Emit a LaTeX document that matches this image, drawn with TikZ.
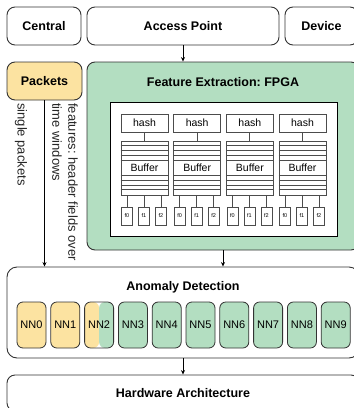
\documentclass[tikz,border=0pt]{standalone}
\usepackage{fontspec}
\setmainfont{Liberation Sans}
\usepackage{tikz}
\usetikzlibrary{arrows.meta}
\definecolor{pktyellow}{HTML}{FCE3A1}
\definecolor{fpgagreen}{HTML}{B3DEC1}
\definecolor{edge}{HTML}{333333}
\newcommand{\titlefont}{\fontsize{12.5}{15}\selectfont\bfseries}
\frenchspacing

\begin{document}
\begin{tikzpicture}[x=1pt, y=-1pt,
    box/.style={draw=edge, line width=0.9pt, rounded corners=8pt, inner sep=0pt, font=\titlefont},
    hwbox/.style={draw=black!70, line width=0.7pt, fill=white, inner sep=0pt, font=\fontsize{10.5}{12}\selectfont},
    fbox/.style={draw=black!70, line width=0.6pt, fill=white, inner sep=0pt, minimum width=11pt, minimum height=18pt, font=\fontsize{5.5}{6}\selectfont},
    nnbox/.style={draw=edge, line width=0.8pt, rounded corners=6pt, inner sep=0pt, minimum width=29pt, minimum height=46pt, font=\fontsize{11}{13}\selectfont},
    arr/.style={-{Stealth[length=4.5pt, width=4pt]}, line width=0.7pt},
    vlabel/.style={rotate=-90, inner sep=0pt, font=\fontsize{13}{16}\selectfont, text=black!85}]
    \useasboundingbox (0,0) rectangle (354,408);
    \clip (0,0) rectangle (354,408);
    % top row
    \node[box, minimum width=74pt, minimum height=38pt] (central) at (44,26) {Central};
    \node[box, minimum width=192pt, minimum height=38pt] (access) at (183,26) {Access Point};
    \node[box, minimum width=73pt, minimum height=38pt] (device) at (321.5,26) {Device};
    % packets and FPGA
    \node[box, fill=pktyellow, minimum width=75pt, minimum height=38pt] (packets) at (44.5,81) {Packets};
    \node[box, fill=fpgagreen, minimum width=272pt, minimum height=188pt] (fpga) at (223,156) {};
    \node[font=\titlefont] (fpgatitle) at (223,82) {Feature Extraction: FPGA};
    \node[draw=black, line width=0.8pt, fill=white, minimum width=227pt, minimum height=134pt] (fpgacore) at (223.5,169) {};
    % hash, buffer and feature columns
    \foreach \c in {0,...,3}{
        \node[hwbox, minimum width=47pt, minimum height=18pt] (hash\c) at ({144.5+52.67*\c},123) {hash};
        \node[hwbox, minimum width=47pt, minimum height=54pt] (buf\c) at ({144.5+52.67*\c},168) {Buffer};
        \foreach \yy in {5,10,15,20,35,40,45,49}
            \draw[black!70, line width=0.6pt] ([yshift=-\yy pt]buf\c.north west) -- ([yshift=-\yy pt]buf\c.north east);
        \draw[black!70, line width=0.7pt] (hash\c) -- (buf\c);
        \foreach \k/\dx in {0/-17.5, 1/-0.5, 2/16.5}{
            \node[fbox] (ft\c\k) at ({144.5+52.67*\c+\dx},216) {f\k};
            \draw[black!70, line width=0.7pt] (buf\c.south -| ft\c\k) -- (ft\c\k.north);
        }
    }
    % anomaly detection
    \node[box, rounded corners=10pt, minimum width=352pt, minimum height=91pt] (anomaly) at (183,312.5) {};
    \node[font=\titlefont] (anomalytitle) at (183,287) {Anomaly Detection};
    \foreach \i in {0,1}
        \node[nnbox, fill=pktyellow] (nn\i) at ({31.5+33.8*\i},325) {NN\i};
    \node[nnbox, path picture={
        \fill[pktyellow] (path picture bounding box.north west) rectangle (path picture bounding box.south);
        \fill[fpgagreen] (path picture bounding box.north) rectangle (path picture bounding box.south east);}]
        (nn2) at ({31.5+33.8*2},325) {NN2};
    \foreach \i in {3,...,9}
        \node[nnbox, fill=fpgagreen] (nn\i) at ({31.5+33.8*\i},325) {NN\i};
    % hardware
    \node[box, minimum width=352pt, minimum height=36pt] (hardware) at (183,393) {Hardware Architecture};
    % connectors
    \draw[arr] (access.south) -- (access.south |- fpga.north);
    \draw[arr] (packets.south) -- (packets.south |- anomaly.north);
    \draw[arr] (fpga.south) -- (fpga.south |- anomaly.north);
    \draw[arr] (anomaly.south) -- (hardware.north);
    % labels along the packet arrow
    \node[vlabel, anchor=base west] (singlelbl) at (17.5,103) {single packets};
    \node[vlabel, anchor=north west, align=left] (featlbl) at (78,103) {features: header fields over\\time windows};
\end{tikzpicture}
\end{document}
